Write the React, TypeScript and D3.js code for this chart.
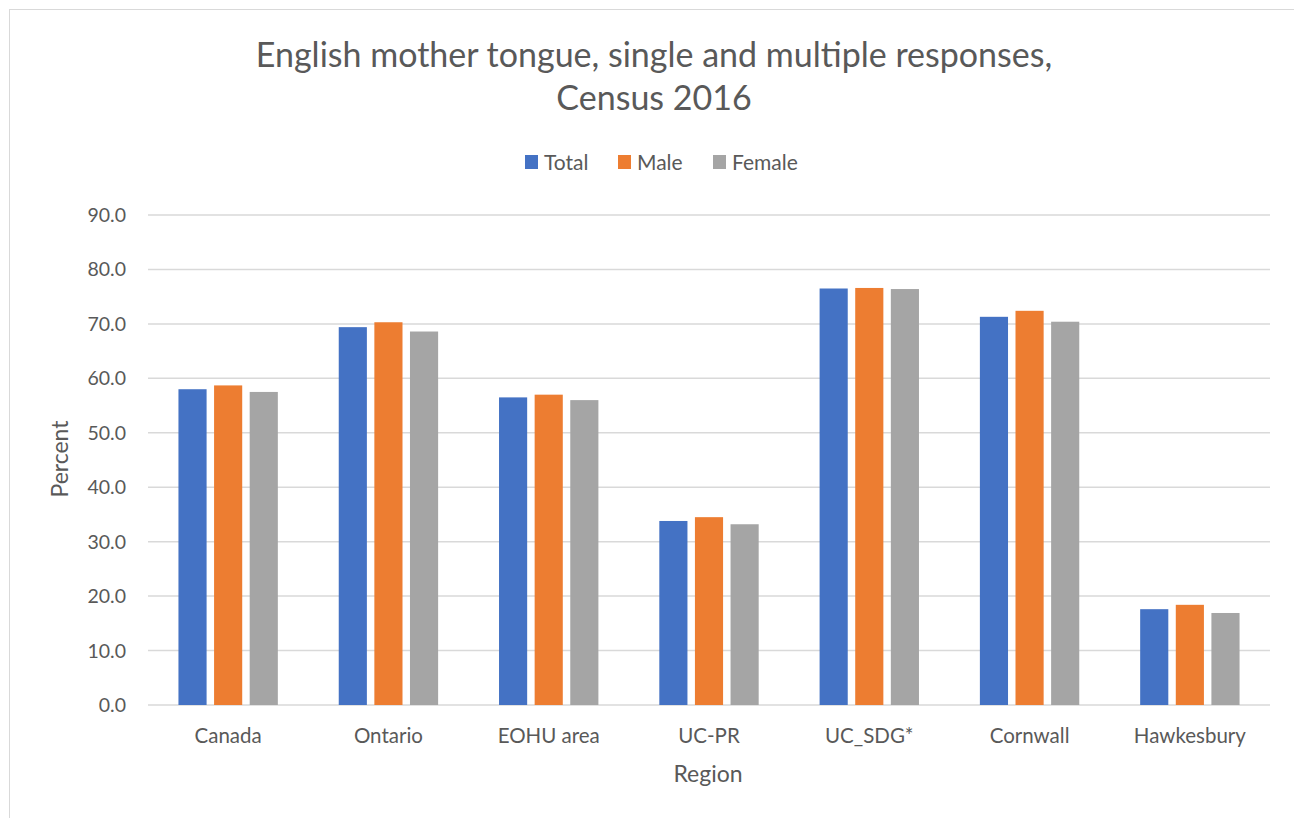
import React from 'react';
import * as d3 from 'd3';

const regions = ['Canada', 'Ontario', 'EOHU area', 'UC-PR', 'UC_SDG*', 'Cornwall', 'Hawkesbury'];
const seriesNames = ['Total', 'Male', 'Female'];
const totalValues = [58.0, 69.4, 56.5, 33.8, 76.5, 71.3, 17.6];
const maleValues = [58.7, 70.3, 57.0, 34.5, 76.6, 72.4, 18.4];
const femaleValues = [57.5, 68.6, 56.0, 33.2, 76.4, 70.4, 16.9];
const yTicks = [0, 10, 20, 30, 40, 50, 60, 70, 80, 90];
const colors = ['#4472C4', '#ED7D31', '#A5A5A5'];

const W = 1294;
const H = 818;
const margin = { left: 148, right: 24, top: 215, bottom: 113 };
const font = 'Lato, "Open Sans", sans-serif';
const textColor = '#595959';

const App: React.FC = () => {
  const values = [totalValues, maleValues, femaleValues];
  const x0 = d3.scaleBand<string>().domain(regions).range([margin.left, W - margin.right]).paddingInner(0.38).paddingOuter(0.19);
  const x1 = d3.scaleBand<string>().domain(seriesNames).range([0, x0.bandwidth()]).paddingInner(0.21);
  const y = d3.scaleLinear().domain([0, 90]).range([H - margin.bottom, margin.top]);

  return (
    <svg width={W} height={H} style={{ position: 'absolute', left: 0, top: 0, display: 'block', background: '#fff' }}>
      <rect x={9.5} y={9.5} width={W} height={H} fill="#fff" stroke="#D9D9D9" />
      <text x={654} y={67} textAnchor="middle" fontFamily={font} fontSize={34} fill={textColor}>
        English mother tongue, single and multiple responses,
      </text>
      <text x={654} y={110} textAnchor="middle" fontFamily={font} fontSize={34} fill={textColor}>
        Census 2016
      </text>

      {/* legend */}
      <g fontFamily={font} fontSize={21} fill={textColor}>
        {seriesNames.map((s, i) => {
          const lx = [525, 618, 713][i];
          return (
            <g key={s}>
              <rect x={lx} y={155} width={13} height={14} fill={colors[i]} />
              <text x={lx + 19} y={170}>{s}</text>
            </g>
          );
        })}
      </g>

      {/* gridlines */}
      {yTicks.map((t) => (
        <g key={t}>
          <line x1={margin.left} x2={W - margin.right} y1={y(t)} y2={y(t)} stroke="#D9D9D9" strokeWidth={1.5} />
          <text x={126} y={y(t) + 7} textAnchor="end" fontFamily={font} fontSize={19.5} fill={textColor}>
            {t.toFixed(1)}
          </text>
        </g>
      ))}

      {/* bars */}
      {regions.map((r, ri) => (
        <g key={r} transform={`translate(${x0(r)},0)`}>
          {seriesNames.map((s, si) => (
            <rect
              key={s}
              x={x1(s)}
              y={y(values[si][ri])}
              width={x1.bandwidth()}
              height={y(0) - y(values[si][ri])}
              fill={colors[si]}
            />
          ))}
        </g>
      ))}

      {/* x axis labels */}
      {regions.map((r) => (
        <text key={r} x={(x0(r) ?? 0) + x0.bandwidth() / 2} y={743} textAnchor="middle" fontFamily={font} fontSize={20.5} fill={textColor}>
          {r}
        </text>
      ))}
      <text x={708} y={782} textAnchor="middle" fontFamily={font} fontSize={23} fill={textColor}>Region</text>
      <text transform="translate(68,459) rotate(-90)" textAnchor="middle" fontFamily={font} fontSize={23} fill={textColor}>Percent</text>
    </svg>
  );
};

export default App;
